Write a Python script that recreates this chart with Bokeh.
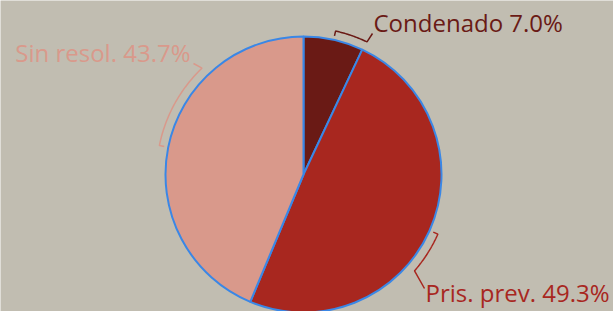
import numpy as np
from bokeh.plotting import figure
from bokeh.models import Range1d
from bokeh.core.properties import value
from bokeh.embed import file_html
from bokeh.resources import INLINE

# ---- data ----
categories = ["Condenado", "Pris. prev.", "Sin resol."]
shares = [7.0, 49.3, 43.7]
colors = ["#6a1a15", "#a8271f", "#d9998b"]
label_texts = ["Condenado 7.0%", "Pris. prev. 49.3%", "Sin resol. 43.7%"]

# ---- layout (label placement) ----
bracket_span_deg = [13.0, 17.0, 35.0]
label_x = [70, 122, -113]
label_y = [152, -118, 122]
label_align = ["left", "left", "right"]
leader_end_x = [69, 121, -110]
leader_end_y = [141, -114, 111]

BG = "#c1bdb1"
OUTLINE = "#3a87e6"
R = 138
RB = 147
RT = 142

p = figure(width=613, height=311, output_backend="svg", toolbar_location=None,
           x_range=Range1d(-303, 310), y_range=Range1d(-137, 174),
           min_border=0)
p.axis.visible = False
p.grid.visible = False
p.outline_line_color = None
p.background_fill_color = BG
p.border_fill_color = BG

total = sum(shares)
cum = np.cumsum([0] + shares) / total * 360.0
starts = cum[:-1]
ends = cum[1:]

# clockwise from top -> bokeh angles
p.wedge(x=0, y=0, radius=R,
        start_angle=[np.deg2rad(90 - s) for s in starts],
        end_angle=[np.deg2rad(90 - e) for e in ends],
        direction="clock", fill_color=colors,
        line_color=OUTLINE, line_width=2)

def pt(a_deg, r):
    a = np.deg2rad(a_deg)
    return r * np.sin(a), r * np.cos(a)

for i in range(len(shares)):
    mid = (starts[i] + ends[i]) / 2
    a2 = mid + bracket_span_deg[i]
    xs, ys = [], []
    tx, ty = pt(mid, RT)
    xs.append(tx); ys.append(ty)
    for a in np.linspace(mid, a2, 30):
        x, y = pt(a, RB)
        xs.append(x); ys.append(y)
    xs.append(leader_end_x[i]); ys.append(leader_end_y[i])
    p.line(xs, ys, line_color=colors[i], line_width=1.5)
    p.text(x=[label_x[i]], y=[label_y[i]], text=[label_texts[i]],
           text_font=value("Open Sans"), text_font_size="24px",
           text_color=colors[i], text_align=label_align[i],
           text_baseline="alphabetic")

html = file_html(p, INLINE)
html = html.replace("<body>", '<body style="background:%s">' % BG, 1)
open("out.html", "w").write(html)
